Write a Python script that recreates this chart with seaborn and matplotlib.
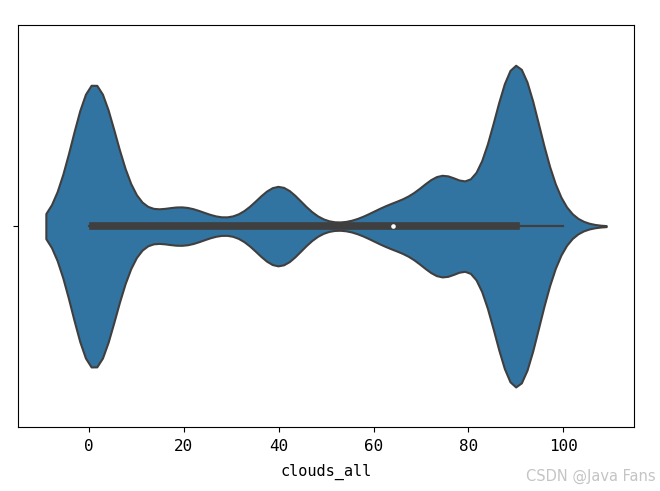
import numpy as np
import pandas as pd
import matplotlib
matplotlib.use("Agg")
import matplotlib.pyplot as plt
import seaborn as sns

# clouds_all values and how often each one occurs (estimated from the violin shape)
cloud_values = [0, 1, 3, 5, 8, 12, 15, 20, 24, 28, 32, 36, 40, 44, 48, 56, 60,
                64, 68, 72, 75, 80, 82, 84, 86, 88, 90, 92, 94, 96, 98, 100]
cloud_counts = [2120, 11300, 420, 560, 440, 400, 300, 1480, 200, 190, 190, 320,
                3500, 320, 110, 110, 330, 1400, 480, 830, 3900, 180, 200, 420,
                850, 1270, 12190, 1270, 850, 640, 110, 210]

weather = pd.DataFrame({"clouds_all": np.repeat(cloud_values, cloud_counts)})

plt.rcParams['font.family'] = ['DejaVu Sans Mono', 'Noto Sans CJK SC']
plt.rcParams['axes.unicode_minus'] = False

fig, ax = plt.subplots(figsize=(6.6, 4.91), dpi=100)
fig.subplots_adjust(left=0.027, right=0.961, top=0.949, bottom=0.130)

sns.violinplot(data=weather, x="clouds_all", ax=ax, color="#1f77b4",
               linewidth=1.5, linecolor="#3f3f3f",
               inner_kws=dict(box_width=5.5, whis_width=1.6, marker="o",
                              markersize=2.2))

ax.set_xlabel("clouds_all", fontsize=11, labelpad=7)
ax.tick_params(axis="x", labelsize=11.5, pad=5)
ax.set_yticks([0])
ax.set_yticklabels([""])

fig.text(0.993, 0.015, "CSDN @Java Fans", ha="right", va="bottom",
         fontsize=10.5, color="#c4c4c4", family="Liberation Sans Narrow")

fig.savefig("out.png", dpi=100)
